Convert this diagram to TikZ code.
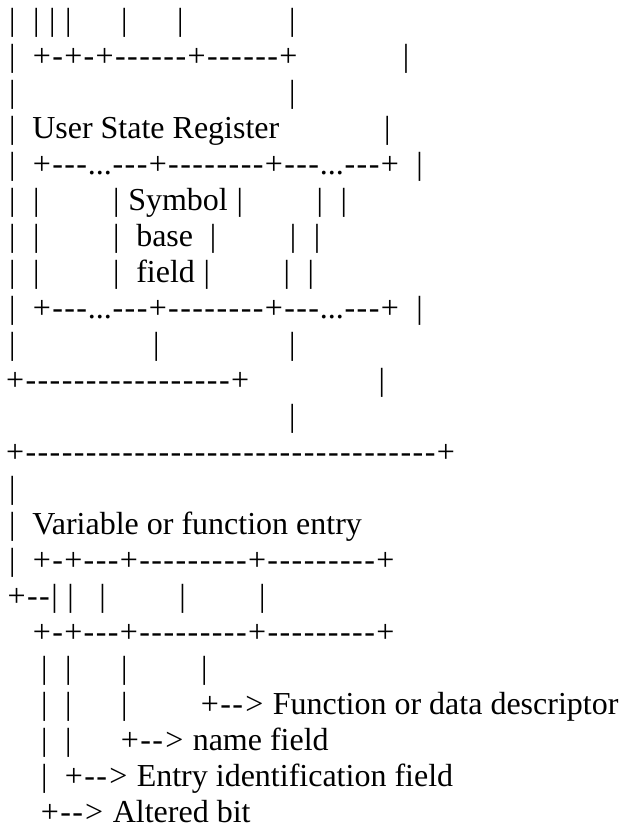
\documentclass[tikz,border=0pt]{standalone}
\usepackage{fontspec}
\setmainfont{Liberation Serif}

% widths of the ascii glyphs as the drawing sets them
\def\barw{8pt}
\def\plusw{19.3pt}
\def\dashw{12.1pt}
\def\gtw{21pt}
\def\spw{8pt}

\makeatletter
\let\asc@end\relax
\def\asc@e{\asc@end}
\def\asc@b{|}
\def\asc@p{+}
\def\asc@d{-}
\def\asc@g{>}
\def\asc@s{~}
\newcommand\asc[1]{\asc@loop#1\asc@end}
\def\asc@loop#1{\def\asc@tmp{#1}%
  \ifx\asc@tmp\asc@e\let\asc@next\relax\else
    \ifx\asc@tmp\asc@b\makebox[\barw]{|}\else
    \ifx\asc@tmp\asc@p\makebox[\plusw]{+}\else
    \ifx\asc@tmp\asc@d\makebox[\dashw]{-}\else
    \ifx\asc@tmp\asc@g\makebox[\gtw]{>}\else
    \ifx\asc@tmp\asc@s\hspace*{\spw}\else
    #1\fi\fi\fi\fi\fi
    \let\asc@next\asc@loop
  \fi\asc@next}
\makeatother

\begin{document}
\begin{tikzpicture}[x=1pt,y=-1pt,
  ln/.style={anchor=base west,inner sep=0pt,outer sep=0pt,font=\fontsize{32}{36}\selectfont}]
\useasboundingbox (0,0) rectangle (623,827);
\node[ln] (l1) at (8.3,30) {\asc{|~~|~|~|~~~~~~|~~~~~~|~~~~~~~~~~~~~|}};
\node[ln] (l2) at (8.3,66) {\asc{|~~+-+-+------+------+~~~~~~~~~~~~~|}};
\node[ln] (l3) at (8.3,102) {\asc{|~~~~~~~~~~~~~~~~~~~~~~~~~~~~~~~~~~|}};
\node[ln] (l4) at (8.3,138) {\asc{|~~{User State Register}~~~~~~~~~~~~~|}};
\node[ln] (l5) at (8.3,174) {\asc{|~~+---...---+--------+---...---+~~|}};
\node[ln] (l6) at (8.3,210) {\asc{|~~|~~~~~~~~~|~{Symbol}~|~~~~~~~~~|~~|}};
\node[ln] (l7) at (8.3,246) {\asc{|~~|~~~~~~~~~|~~{base}~~|~~~~~~~~~|~~|}};
\node[ln] (l8) at (8.3,282) {\asc{|~~|~~~~~~~~~|~~{field}~|~~~~~~~~~|~~|}};
\node[ln] (l9) at (8.3,318) {\asc{|~~+---...---+--------+---...---+~~|}};
\node[ln] (l10) at (8.3,354) {\asc{|~~~~~~~~~~~~~~~~~|~~~~~~~~~~~~~~~~|}};
\node[ln] (l11) at (5.5,390) {\asc{+-----------------+~~~~~~~~~~~~~~~~|}};
\node[ln] (l12) at (8.3,426) {\asc{~~~~~~~~~~~~~~~~~~~~~~~~~~~~~~~~~~~|}};
\node[ln] (l13) at (5.5,462) {\asc{+----------------------------------+}};
\node[ln] (l14) at (8.3,498) {\asc{|}};
\node[ln] (l15) at (8.3,534) {\asc{|~~{Variable or function entry}}};
\node[ln] (l16) at (8.3,570) {\asc{|~~+-+---+---------+---------+}};
\node[ln] (l17) at (7,606) {\asc{+--|~|~~~|~~~~~~~~~|~~~~~~~~~|}};
\node[ln] (l18) at (8.3,642) {\asc{~~~+-+---+---------+---------+}};
\node[ln] (l19) at (8.3,678) {\asc{~~~~|~~|~~~~~~|~~~~~~~~~|}};
\node[ln] (l20) at (8.3,714) {\asc{~~~~|~~|~~~~~~|~~~~~~~~~+-->~{Function or data descriptor}}};
\node[ln] (l21) at (8.3,750) {\asc{~~~~|~~|~~~~~~+-->~{name field}}};
\node[ln] (l22) at (8.3,786) {\asc{~~~~|~~+-->~{Entry identification field}}};
\node[ln] (l23) at (8.3,822) {\asc{~~~~+-->~{Altered bit}}};
\end{tikzpicture}
\end{document}
